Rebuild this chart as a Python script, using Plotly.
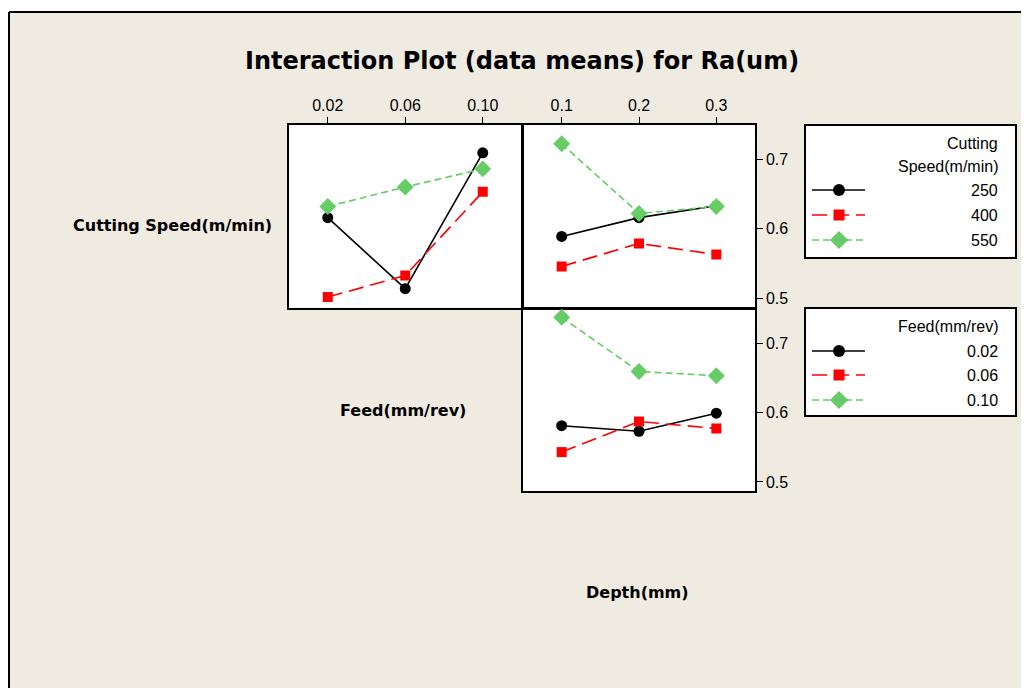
import plotly.graph_objects as go

# The page is shown with an 8px body margin, so layout positions below are
# expressed in screen pixels and shifted by that margin.
OX, OY = 8, 8
W, H = 1029, 688 - OY

# ---------------- data ----------------
feed_levels = [0.02, 0.06, 0.10]
feed_ticktext = ["0.02", "0.06", "0.10"]
depth_levels = [0.1, 0.2, 0.3]
depth_ticktext = ["0.1", "0.2", "0.3"]
ra_ticks = [0.5, 0.6, 0.7]

speed_names = ["250", "400", "550"]
feed_names = ["0.02", "0.06", "0.10"]

# Ra means vs Feed, grouped by cutting speed
ra_feed_s250 = [0.616, 0.514, 0.709]
ra_feed_s400 = [0.502, 0.533, 0.653]
ra_feed_s550 = [0.632, 0.660, 0.686]

# Ra means vs Depth, grouped by cutting speed
ra_depth_s250 = [0.589, 0.616, 0.633]
ra_depth_s400 = [0.546, 0.579, 0.563]
ra_depth_s550 = [0.722, 0.622, 0.632]

# Ra means vs Depth, grouped by feed
ra_depth_f002 = [0.581, 0.573, 0.599]
ra_depth_f006 = [0.543, 0.587, 0.577]
ra_depth_f010 = [0.737, 0.659, 0.653]

# ---------------- styles ----------------
colors = ["#000000", "#FF0000", "#66CC66"]
symbols = ["circle", "square", "diamond"]
msizes = [11, 10, 13]
dashes = ["solid", "15px,7px", "7px,4px"]

TICK_FONT = dict(family="Liberation Sans, Arial, sans-serif", size=16, color="black")
BOLD_FONT = "DejaVu Sans, Verdana, sans-serif"


def px_x(a, b):
    return [(a - OX) / W, (b - OX) / W]


def px_y(top, bottom):
    return [1 - (bottom - OY) / H, 1 - (top - OY) / H]


def pxp(x, y):
    return (x - OX) / W, 1 - (y - OY) / H


fig = go.Figure()


def add_series(xs, ys, i, xa, ya):
    fig.add_trace(go.Scatter(
        x=xs, y=ys, xaxis=xa, yaxis=ya, mode="lines+markers",
        line=dict(color=colors[i], width=1.6, dash=dashes[i]),
        marker=dict(color=colors[i], symbol=symbols[i], size=msizes[i],
                    opacity=1, line=dict(width=0)),
        showlegend=False, hoverinfo="x+y"))


for i, ys in enumerate([ra_feed_s250, ra_feed_s400, ra_feed_s550]):
    add_series(feed_levels, ys, i, "x", "y")
for i, ys in enumerate([ra_depth_s250, ra_depth_s400, ra_depth_s550]):
    add_series(depth_levels, ys, i, "x2", "y2")
for i, ys in enumerate([ra_depth_f002, ra_depth_f006, ra_depth_f010]):
    add_series(depth_levels, ys, i, "x3", "y3")


# ---------------- legend blocks (drawn in small helper axes) ----------------
def legend_block(names, xa, ya, title_lines, title_y, entry_y):
    for i, name in enumerate(names):
        fig.add_trace(go.Scatter(
            x=[6, 33, 59], y=[entry_y[i]] * 3, xaxis=xa, yaxis=ya,
            mode="lines+markers",
            line=dict(color=colors[i], width=1.6, dash=dashes[i]),
            marker=dict(color=colors[i], symbol=symbols[i], opacity=1,
                        size=[0, msizes[i] + 1, 0], line=dict(width=0)),
            showlegend=False, hoverinfo="skip"))
        fig.add_annotation(x=194, y=entry_y[i], xref=xa, yref=ya, text=name,
                           showarrow=False, xanchor="right", yanchor="middle",
                           font=TICK_FONT)
    for t, ty in zip(title_lines, title_y):
        fig.add_annotation(x=194, y=ty, xref=xa, yref=ya, text=t,
                           showarrow=False, xanchor="right", yanchor="middle",
                           font=TICK_FONT)


legend_block(speed_names, "x4", "y4", ["Cutting", "Speed(m/min)"], [17, 40], [64, 89, 114])
legend_block(feed_names, "x5", "y5", ["Feed(mm/rev)"], [17], [42, 66, 91])

# ---------------- axes ----------------
ra_range = [0.487, 0.749]
LW = 1.5
common = dict(showline=True, linecolor="black", linewidth=LW, mirror=True,
              showgrid=False, zeroline=False, tickfont=TICK_FONT,
              ticks="outside", ticklen=6, tickwidth=1.2, tickcolor="black")
box = dict(showline=True, mirror=True, linecolor="black", linewidth=LW,
           showgrid=False, zeroline=False, showticklabels=False, ticks="",
           fixedrange=True)

fig.update_layout(
    xaxis=dict(common, domain=px_x(289, 521.5), range=[0.0, 0.12], side="top",
               tickvals=feed_levels, ticktext=feed_ticktext, anchor="y"),
    yaxis=dict(common, domain=px_y(125, 307.5), range=ra_range, ticks="",
               showticklabels=False, anchor="x"),
    xaxis2=dict(common, domain=px_x(523, 755), range=[0.05, 0.35], side="top",
                tickvals=depth_levels, ticktext=depth_ticktext, anchor="y2"),
    yaxis2=dict(common, domain=px_y(125, 307.5), range=ra_range, side="right",
                tickvals=ra_ticks, anchor="x2"),
    xaxis3=dict(common, domain=px_x(523, 755), range=[0.05, 0.35], ticks="",
                showticklabels=False, anchor="y3"),
    yaxis3=dict(common, domain=px_y(309, 491), range=ra_range, side="right",
                tickvals=ra_ticks, anchor="x3"),
    xaxis4=dict(box, domain=px_x(806, 1015), range=[0, 209], anchor="y4"),
    yaxis4=dict(box, domain=px_y(126, 257), range=[131, 0], anchor="x4"),
    xaxis5=dict(box, domain=px_x(806, 1015), range=[0, 209], anchor="y5"),
    yaxis5=dict(box, domain=px_y(309, 415), range=[106, 0], anchor="x5"),
)

# ---------------- page frame ----------------
beige = "#EFEBE1"
x0, y0 = pxp(8, 11.5)
fig.add_shape(type="rect", xref="paper", yref="paper", x0=-0.01, x1=1.01,
              y0=y0, y1=1.01, fillcolor="white", line=dict(width=0), layer="below")
fig.add_shape(type="line", xref="paper", yref="paper", x0=pxp(9, 0)[0], x1=1.01,
              y0=pxp(0, 12)[1], y1=pxp(0, 12)[1], line=dict(color="black", width=2))
fig.add_shape(type="line", xref="paper", yref="paper", x0=pxp(9, 0)[0], x1=pxp(9, 0)[0],
              y0=-0.01, y1=pxp(0, 12)[1], line=dict(color="black", width=2))

# ---------------- text ----------------
tx, ty = pxp(522, 61)
fig.add_annotation(x=tx, y=ty, xref="paper", yref="paper",
                   text="<b>Interaction Plot (data means) for Ra(um)</b>",
                   showarrow=False, xanchor="center", yanchor="middle",
                   font=dict(family=BOLD_FONT, size=24, color="black"))
for txt, cx, cy in [("Cutting Speed(m/min)", 172, 226),
                    ("Feed(mm/rev)", 403, 410),
                    ("Depth(mm)", 637, 592)]:
    ax_, ay_ = pxp(cx, cy)
    fig.add_annotation(x=ax_, y=ay_, xref="paper", yref="paper",
                       text="<b>" + txt + "</b>", showarrow=False,
                       xanchor="center", yanchor="middle",
                       font=dict(family=BOLD_FONT, size=16, color="black"))

fig.update_layout(
    width=W, height=H, margin=dict(l=0, r=0, t=0, b=0),
    paper_bgcolor=beige, plot_bgcolor="white", showlegend=False,
)

fig.write_html("out.html")
